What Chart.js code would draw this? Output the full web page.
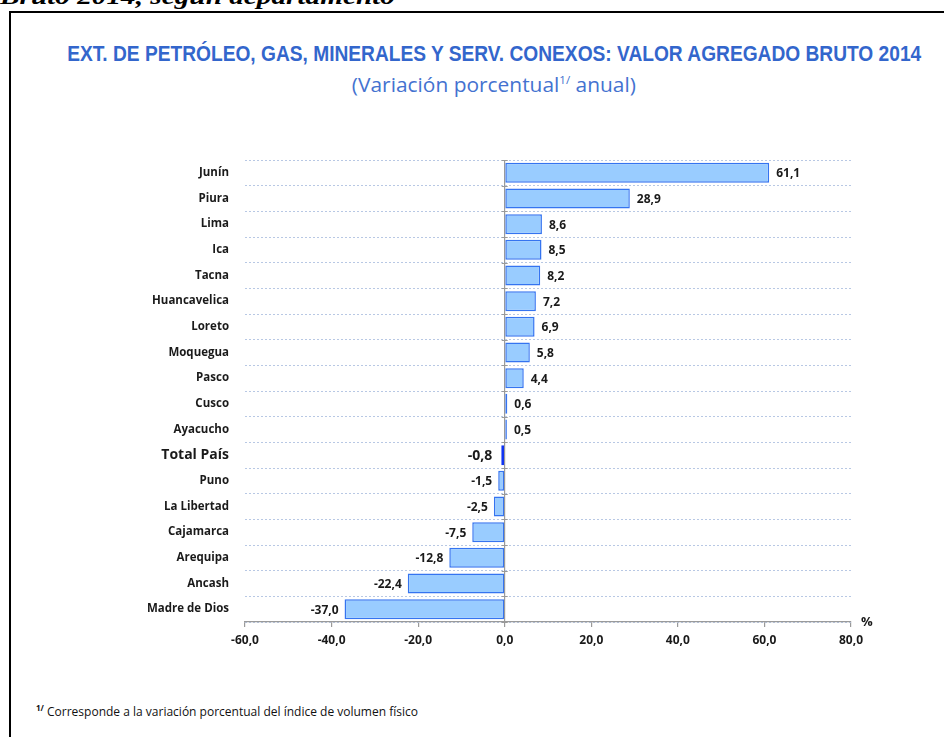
<!DOCTYPE html>
<html>
<head>
<meta charset="utf-8">
<script src="https://cdn.jsdelivr.net/npm/chart.js@4.4.1/dist/chart.umd.min.js"></script>
<style>
  html, body { margin: 0; padding: 0; background: #fff; overflow: hidden; }
  body { width: 944px; height: 737px; position: relative; }
  #doc { position: absolute; left: 0; top: -16px; font: italic bold 24px "Liberation Serif", serif; color: #000; white-space: nowrap; line-height: 24px; transform-origin: 0 0; }
  #box { position: absolute; left: 9px; top: 11px; right: -10px; bottom: -10px; border: 2px solid #000; }
  #titleText { position: absolute; top: 41px; white-space: nowrap; font: bold 22px "Liberation Sans", sans-serif; color: #3366CC; transform-origin: 50% 50%; }
  #subText { position: absolute; top: 71px; white-space: nowrap; font: 20px "Open Sans", sans-serif; color: #4472D0; transform-origin: 50% 50%; }
  #subText sup { font-size: 11px; }
  #note { position: absolute; left: 36px; top: 702px; font: 12px "Open Sans", sans-serif; color: #111; white-space: nowrap; transform-origin: 0 50%; }
  #note sup { font-size: 8px; font-weight: bold; }
  #wrap { position: absolute; left: 0; top: 0; width: 944px; height: 737px; }
</style>
</head>
<body>
<div id="doc">Bruto 2014, según departamento</div>
<div id="box"></div>
<div id="titleText">EXT. DE PETRÓLEO, GAS, MINERALES Y SERV. CONEXOS: VALOR AGREGADO BRUTO 2014</div>
<div id="subText">(Variación porcentual<sup>1/</sup> anual)</div>
<div id="note"><sup>1/</sup> Corresponde a la variación porcentual del índice de volumen físico</div>
<div id="wrap"><canvas id="chart"></canvas></div>
<script>
const categories = ["Junín", "Piura", "Lima", "Ica", "Tacna", "Huancavelica", "Loreto", "Moquegua", "Pasco", "Cusco", "Ayacucho", "Total País", "Puno", "La Libertad", "Cajamarca", "Arequipa", "Ancash", "Madre de Dios"];
const values = [61.1, 28.9, 8.6, 8.5, 8.2, 7.2, 6.9, 5.8, 4.4, 0.6, 0.5, -0.8, -1.5, -2.5, -7.5, -12.8, -22.4, -37.0];
const xTicks = [-60, -40, -20, 0, 20, 40, 60, 80];
const totalLabel = "Total País";

function el(id) {
  return document.getElementById(id);
}

function fmt(v) {
  return v.toFixed(1).replace(".", ",");
}

// squeeze text blocks to the reference widths
function fitWidth(node, target) {
  const w = node.getBoundingClientRect().width;
  if (w > 0) node.style.transform = "scaleX(" + (target / w) + ")";
}
function fitCenter(node, target, cx) {
  const w = node.getBoundingClientRect().width;
  node.style.left = (cx - w / 2) + "px";
  if (w > 0) node.style.transform = "scaleX(" + (target / w) + ")";
}
fitCenter(el("titleText"), 854, 494);
fitCenter(el("subText"), 284, 494);
fitWidth(el("doc"), 395);
fitWidth(el("note"), 382);

const isTotal = i => categories[i] === totalLabel;
const FONT = "'Open Sans', sans-serif";

const valueLabels = {
  id: "valueLabels",
  afterDatasetsDraw(chart) {
    const ctx = chart.ctx;
    const meta = chart.getDatasetMeta(0);
    ctx.save();
    ctx.textBaseline = "middle";
    meta.data.forEach((bar, i) => {
      const v = values[i];
      ctx.fillStyle = "#1a1a1a";
      ctx.font = isTotal(i) ? "bold 14px " + FONT : "bold 12px " + FONT;
      if (v >= 0) {
        ctx.textAlign = "left";
        ctx.fillText(fmt(v), bar.x + 7, bar.y + 1);
      } else {
        ctx.textAlign = "right";
        ctx.fillText(fmt(v), bar.x - (isTotal(i) ? 9 : 6), bar.y + 1);
      }
    });

    // small tick marks on the zero line + % unit
    const x = chart.scales.x;
    const y = chart.scales.y;
    const x0 = x.getPixelForValue(0);
    ctx.strokeStyle = "#9a9a9a";
    ctx.lineWidth = 1;
    const step = (y.bottom - y.top) / categories.length;
    for (let k = 0; k <= categories.length; k++) {
      const py = Math.round(y.top + k * step) + 0.5;
      ctx.beginPath();
      ctx.moveTo(x0 - 3, py);
      ctx.lineTo(x0 + 3, py);
      ctx.stroke();
    }
    ctx.fillStyle = "#1a1a1a";
    ctx.font = "bold 13px " + FONT;
    ctx.textAlign = "left";
    ctx.fillText("%", x.right + 10, y.bottom);
    ctx.restore();
  }
};

new Chart(el("chart"), {
  type: "bar",
  data: {
    labels: categories,
    datasets: [{
      data: values,
      backgroundColor: categories.map((c, i) => isTotal(i) ? "#1034F2" : "#99CCFF"),
      borderColor: categories.map((c, i) => isTotal(i) ? "#1034F2" : "#3574F0"),
      borderWidth: 1.5,
      borderSkipped: false,
      barPercentage: 0.78,
      categoryPercentage: 1
    }]
  },
  options: {
    indexAxis: "y",
    responsive: true,
    maintainAspectRatio: false,
    animation: false,
    layout: { padding: { left: 0, right: 93, top: 160, bottom: 85 } },
    plugins: {
      legend: { display: false },
      tooltip: { enabled: false }
    },
    scales: {
      x: {
        min: xTicks[0],
        max: xTicks[xTicks.length - 1],
        afterBuildTicks: s => { s.ticks = xTicks.map(v => ({ value: v })); },
        afterFit: s => { s.height = 30; },
        grid: {
          color: c => (c.tick && c.tick.value === 0) ? "#9a9a9a" : "rgba(0,0,0,0)",
          tickColor: "#9a9a9a",
          tickLength: 5,
          lineWidth: 1.2
        },
        border: { display: true, color: "#9a9a9a", width: 1.2 },
        ticks: {
          padding: 6,
          color: "#1a1a1a",
          font: { family: FONT, size: 12, weight: "bold" },
          callback: v => fmt(v)
        }
      },
      y: {
        afterFit: s => { s.width = 245; },
        grid: {
          offset: true,
          color: "#b8c8e4",
          lineWidth: 1,
          drawTicks: false
        },
        border: { display: false, dash: [2, 2] },
        ticks: {
          padding: 16,
          color: "#1a1a1a",
          font: c => (categories[c.index] === totalLabel)
            ? { family: FONT, size: 14, weight: "bold" }
            : { family: FONT, size: 11.5, weight: "bold" }
        }
      }
    }
  },
  plugins: [valueLabels]
});
</script>
</body>
</html>
